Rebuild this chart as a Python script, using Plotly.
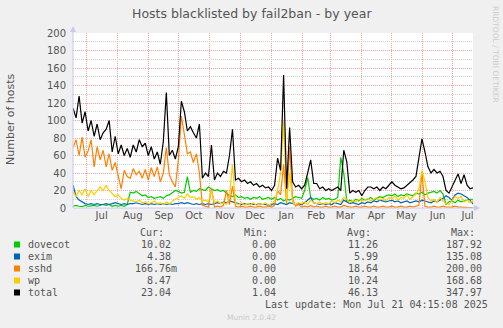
import pandas as pd
import plotly.graph_objects as go

# ---------------- data (3-day samples from 2024-06-17) ----------------
start_date = "2024-06-17 12:00"
n_points = 134

dovecot = [2, 3, 2, 1.5, 3, 2, 2.5, 3, 2, 3, 4, 3, 4, 2, 3, 2, 3, 2, 4, 18,
           17, 19, 16, 14, 15, 12, 13, 11, 12, 13, 11, 14, 15, 18, 20, 19, 17, 18, 36, 18,
           20, 19, 22, 21, 20, 24, 22, 20, 21, 19, 20, 17, 14, 13, 15, 12, 13, 11, 12, 10,
           12, 11, 13, 10, 11, 12, 10, 12, 9, 11, 8, 10, 9, 11, 13, 12, 11, 20, 35, 12,
           10, 11, 9, 12, 10, 11, 9, 10, 12, 58, 40, 8, 9, 7, 10, 8, 11, 9, 10, 12,
           9, 11, 13, 12, 14, 15, 14, 16, 13, 15, 14, 16, 15, 14, 17, 16, 18, 15, 17, 18,
           19, 17, 20, 16, 4, 7, 8, 6, 9, 7, 8, 9, 10, 10.02]

exim = [26, 13, 9, 7, 5, 4, 5, 4, 5, 4, 4, 5, 4, 5, 6, 5, 4, 5, 4, 5,
        5, 6, 5, 4, 5, 4, 5, 4, 5, 4, 5, 4, 5, 4, 5, 5, 6, 5, 6, 5,
        4, 5, 4, 5, 4, 5, 4, 5, 6, 5, 7, 6, 8, 7, 6, 5, 4, 5, 4, 5,
        4, 4, 5, 4, 4, 3, 4, 5, 4, 6, 5, 4, 6, 5, 4, 5, 4, 6, 9, 12,
        6, 5, 4, 5, 4, 5, 4, 6, 5, 4, 9, 7, 5, 6, 5, 4, 6, 5, 7, 6,
        8, 7, 9, 8, 7, 8, 9, 7, 8, 6, 7, 8, 6, 7, 8, 7, 9, 8, 7, 6,
        8, 7, 9, 11, 14, 12, 9, 15, 17, 16, 14, 12, 9, 4.38]

sshd = [69, 78, 60, 81, 58, 65, 78, 47, 70, 55, 66, 47, 62, 43, 52, 38, 22, 43, 36, 34,
        45, 38, 42, 34, 44, 32, 46, 36, 47, 30, 40, 69, 38, 30, 24, 55, 105, 84, 62, 64,
        52, 62, 40, 3, 2, 1, 23, 1, 2, 1, 3, 20, 4, 25, 2, 1, 2, 1, 1, 2,
        1, 1, 2, 1, 1, 2, 1, 3, 20, 15, 50, 5, 70, 10, 2, 4, 1, 2, 1, 3,
        1, 2, 1, 1, 2, 1, 1, 2, 1, 1, 3, 2, 1, 1, 2, 1, 1, 2, 1, 1,
        2, 1, 1, 2, 1, 1, 2, 1, 1, 2, 1, 1, 2, 1, 2, 3, 40, 2, 1, 1,
        2, 1, 1, 2, 1, 1, 1, 2, 1, 1, 1, 0.5, 0.3, 0.17]

wp = [18.7, 13, 20, 15, 22, 13, 20, 15, 20, 24, 20, 26, 20, 17, 13, 15, 11, 9, 11, 9,
      8, 7, 9, 6, 7, 5, 6, 8, 5, 6, 4, 7, 5, 8, 10, 12, 14, 11, 16, 12,
      13, 10, 12, 8, 9, 7, 20, 6, 8, 5, 6, 4, 12, 50, 5, 4, 6, 3, 5, 4,
      6, 3, 5, 4, 6, 3, 5, 8, 20, 40, 99, 8, 40, 6, 4, 6, 5, 7, 4, 9,
      6, 5, 7, 4, 6, 5, 8, 6, 9, 7, 12, 10, 6, 8, 7, 10, 8, 9, 11, 8,
      10, 12, 9, 11, 8, 12, 10, 14, 9, 12, 11, 15, 10, 13, 16, 22, 43, 30, 12, 8,
      10, 6, 12, 8, 5, 4, 9, 13, 11, 13, 7, 9, 6, 8.47]

total = [114, 103, 128, 97, 110, 88, 100, 82, 96, 78, 86, 90, 100, 64, 82, 62, 72, 60, 68, 58,
         72, 64, 78, 70, 74, 60, 70, 56, 64, 50, 76, 132, 60, 66, 56, 70, 122, 110, 88, 93,
         86, 80, 96, 34, 40, 36, 72, 32, 40, 36, 42, 40, 60, 90, 32, 34, 30, 32, 28, 30,
         26, 28, 24, 26, 23, 24, 20, 26, 57, 43, 152, 22, 92, 30, 24, 26, 22, 26, 40, 55,
         28, 28, 22, 24, 20, 22, 20, 22, 24, 20, 66, 53, 17, 20, 18, 20, 14, 20, 24, 24,
         22, 24, 20, 24, 22, 26, 30, 26, 24, 22, 23, 26, 28, 32, 36, 60, 79, 64, 47, 40,
         44, 40, 42, 36, 20, 17, 24, 32, 39, 28, 38, 26, 22, 23.04]

series_names = ["dovecot", "exim", "sshd", "wp", "total"]
series_colors = ["#00CC00", "#0066B3", "#FF8000", "#FFCC00", "#000000"]
series_values = [dovecot, exim, sshd, wp, total]

month_starts = ["2024-07-01", "2024-08-01", "2024-09-01", "2024-10-01", "2024-11-01",
                "2024-12-01", "2025-01-01", "2025-02-01", "2025-03-01", "2025-04-01",
                "2025-05-01", "2025-06-01", "2025-07-01"]
month_mids = ["2024-07-16", "2024-08-16", "2024-09-16", "2024-10-16", "2024-11-16",
              "2024-12-16", "2025-01-16", "2025-02-15", "2025-03-16", "2025-04-16",
              "2025-05-16", "2025-06-16", "2025-07-16"]
month_labels = ["Jul", "Aug", "Sep", "Oct", "Nov", "Dec", "Jan", "Feb", "Mar", "Apr",
                "May", "Jun", "Jul"]
y_ticks = [0, 20, 40, 60, 80, 100, 120, 140, 160, 180, 200]

cur_vals = ["10.02", "4.38", "166.76m", "8.47", "23.04"]
min_vals = ["0.00", "0.00", "0.00", "0.00", "1.04"]
avg_vals = ["11.26", "5.99", "18.64", "10.24", "46.13"]
max_vals = ["187.92", "135.08", "200.00", "168.68", "347.97"]

title_text = "Hosts blacklisted by fail2ban - by year"
y_title = "Number of hosts"
last_update = "Last update: Mon Jul 21 04:15:08 2025"
footer = "Munin 2.0.42"
side_text = "RRDTOOL / TOBI OETIKER"

# ---------------- layout geometry ----------------
W, H = 503, 328
L, R, T, B = 73, 30, 33, 120
PW, PH = W - L - R, H - T - B


def px(x):
    return (x - L) / PW


def py(y):
    return 1 - (y - T) / PH


dates = pd.date_range(start_date, periods=n_points, freq="3D")

fig = go.Figure()
for name, color, vals in zip(series_names, series_colors, series_values):
    fig.add_trace(go.Scatter(x=dates, y=vals, mode="lines", name=name,
                             line=dict(color=color, width=1.2), showlegend=False,
                             hoverinfo="skip"))

grid_major = "#F2A0A0"
grid_minor = "#CFCFCF"
axis_col = "#C8C8F0"
text_col = "#555555"
dotted = "1px,1px"

fig.update_layout(
    width=W, height=H, margin=dict(l=L, r=R, t=T, b=B, pad=0),
    paper_bgcolor="#F0F0F0", plot_bgcolor="#FFFFFF",
    font=dict(family="DejaVu Sans", size=10, color=text_col),
    xaxis=dict(type="date", range=["2024-06-17 10:00", "2025-07-21 10:00"],
               tickmode="array", tickvals=month_mids, ticktext=month_labels,
               showgrid=False, zeroline=False, showline=False, ticks="",
               tickfont=dict(family="DejaVu Sans", size=10, color=text_col),
               minor=dict(tickmode="array", tickvals=month_starts, showgrid=True,
                          gridcolor=grid_major, griddash=dotted, gridwidth=1, ticks=""),
               fixedrange=True),
    yaxis=dict(range=[0, 200], tickmode="array", tickvals=y_ticks,
               showgrid=True, gridcolor=grid_major, griddash=dotted, gridwidth=1,
               zeroline=False, showline=False, ticks="", ticklabelstandoff=6,
               tickfont=dict(family="DejaVu Sans", size=10, color=text_col),
               minor=dict(dtick=10, showgrid=True, gridcolor=grid_minor,
                          griddash=dotted, gridwidth=1, ticks=""),
               fixedrange=True),
)

shapes = []
# axis lines with arrows
shapes.append(dict(type="line", xref="paper", yref="paper", x0=px(73), x1=px(73),
                   y0=py(208), y1=py(28), line=dict(color=axis_col, width=1)))
shapes.append(dict(type="line", xref="paper", yref="paper", x0=px(73), x1=px(478),
                   y0=py(208), y1=py(208), line=dict(color=axis_col, width=1)))
shapes.append(dict(type="path", xref="paper", yref="paper",
                   path=f"M {px(70)} {py(32)} L {px(76)} {py(32)} L {px(73)} {py(26)} Z",
                   fillcolor=axis_col, line=dict(width=0)))
shapes.append(dict(type="path", xref="paper", yref="paper",
                   path=f"M {px(474)} {py(205)} L {px(474)} {py(211)} L {px(480)} {py(208)} Z",
                   fillcolor=axis_col, line=dict(width=0)))

row_y = [244.5, 256.5, 268.5, 280.5, 292.5]
for color, yy in zip(series_colors, row_y):
    shapes.append(dict(type="rect", xref="paper", yref="paper",
                       x0=px(14), x1=px(20), y0=py(yy - 3), y1=py(yy + 3),
                       fillcolor=color, line=dict(width=0)))
fig.update_layout(shapes=shapes)

mono = dict(family="DejaVu Sans Mono", size=10, color=text_col)
ann = []


def add(text, x, y, xanchor="left", font=mono, angle=0):
    ann.append(dict(text=text, xref="paper", yref="paper", x=px(x), y=py(y),
                    xanchor=xanchor, yanchor="middle", showarrow=False,
                    font=font, textangle=angle, borderpad=0))


add(title_text, 251.5, 13.5, "center",
    dict(family="DejaVu Sans", size=12.5, color=text_col))
add(y_title, 10, 119, "center", dict(family="DejaVu Sans", size=11, color=text_col), -90)
add(side_text, 496, 54, "center", dict(family="DejaVu Sans", size=7.5, color="#CCCCCC"), 90)

# legend table
add("Cur:", 164.5, 232.7, "right")
add("Min:", 269, 232.7, "right")
add("Avg:", 372, 232.7, "right")
add("Max:", 475.5, 232.7, "right")
for i, name in enumerate(series_names):
    yy = row_y[i] - 0.3
    add(name, 26.5, yy, "left")
    cv = cur_vals[i]
    add(cv, 172 + (6 if cv[-1].isalpha() else 0), yy, "right")
    add(min_vals[i], 276.5, yy, "right")
    add(avg_vals[i], 378.5, yy, "right")
    add(max_vals[i], 483, yy, "right")
add(last_update, 488.5, 304, "right")
add(footer, 251, 317.7, "center", dict(family="DejaVu Sans", size=7.5, color="#C8C8C8"))

fig.update_layout(annotations=ann)
fig.write_html("out.html")
